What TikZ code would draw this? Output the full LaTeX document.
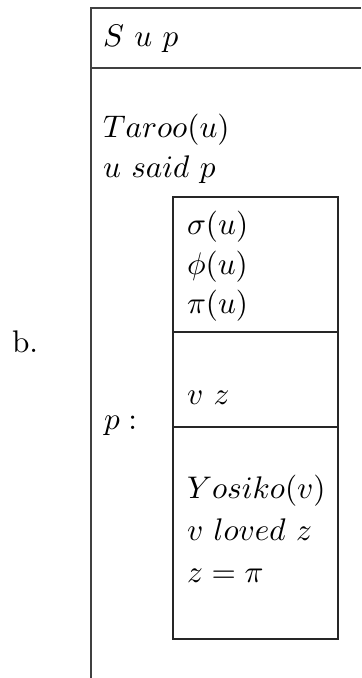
\documentclass[tikz,border=0pt]{standalone}
\usepackage{amsmath}
\usepackage{tikz}
\usetikzlibrary{positioning}

\begin{document}
\begin{tikzpicture}[
    x=0.32pt, y=-0.32pt,
    frame/.style    = {draw=black!75, line width=0.55pt},
    inbox/.style    = {draw=black!85, line width=0.45pt},
    cond/.style     = {anchor=base west, inner sep=0pt, outer sep=0pt}
]
\useasboundingbox (0,0) rectangle (361,678);

% outer DRS frame (open at right and bottom)
\draw[frame] (361,8) -- (91,8) -- (91,678);
\draw[frame] (91,68) -- (361,68);

% embedded box for p
\draw[inbox] (173,197) rectangle (338,639);
\draw[inbox] (173,332) -- (338,332);
\draw[inbox] (173,427) -- (338,427);

\node[cond] (lbl)    at (12,353)  {b.};
\node[cond] (univ)   at (103,47)  {$S\ u\ p$};
\node[cond] (taroo)  at (103,138) {$Taroo(u)$};
\node[cond] (said)   at (103,178) {$u\ said\ p$};
\node[cond] (pcol)   at (104,429) {$p:$};

\node[cond] (sig)    at (187,235) {$\sigma(u)$};
\node[cond] (phi)    at (187,275) {$\phi(u)$};
\node[cond] (pi)     at (187,314) {$\pi(u)$};
\node[cond] (vz)     at (187,404) {$v\ z$};
\node[cond] (yos)    at (187,498) {$Yosiko(v)$};
\node[cond] (loved)  at (187,540) {$v\ loved\ z$};
\node[cond] (zeq)    at (187,582) {$z=\pi$};

\end{tikzpicture}
\end{document}
